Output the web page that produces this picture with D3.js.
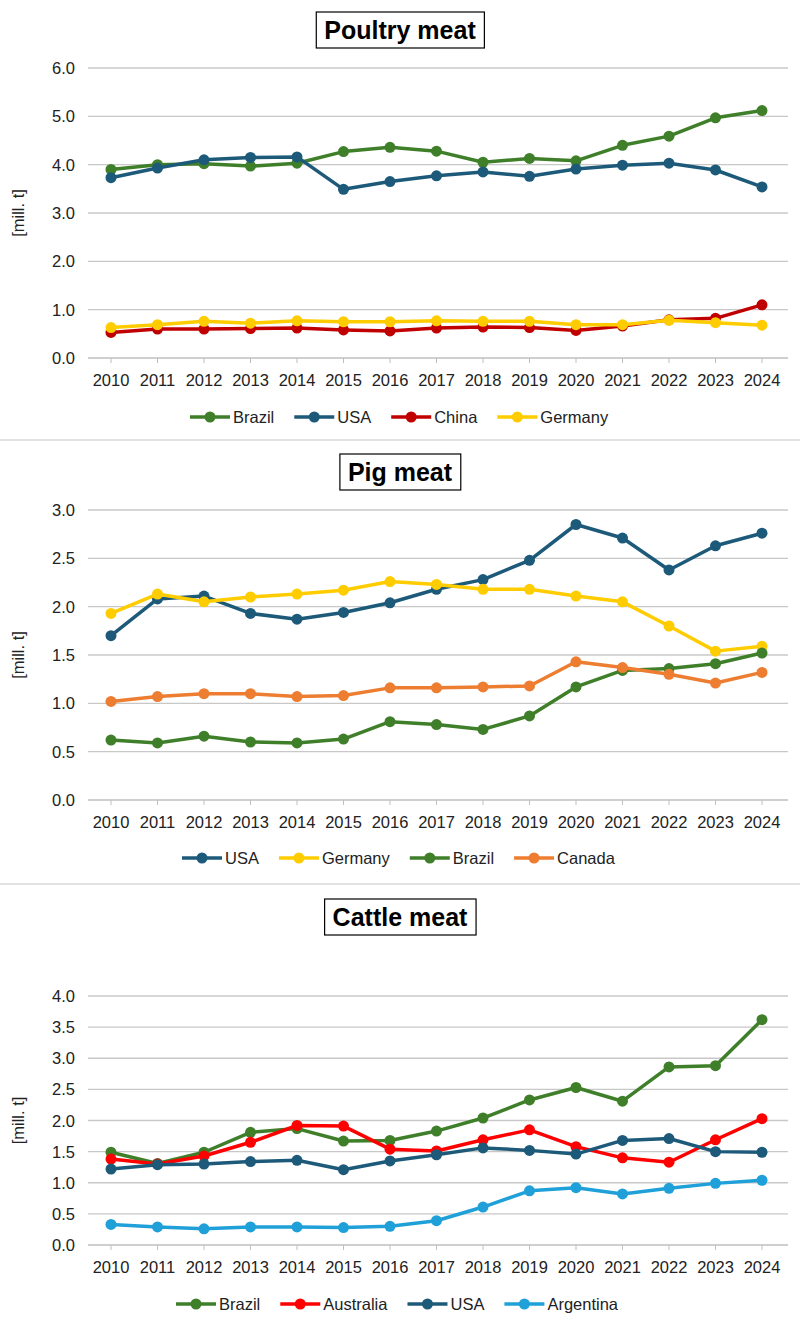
<!DOCTYPE html>
<html><head><meta charset="utf-8">
<script src="https://cdn.jsdelivr.net/npm/d3@7"></script>
<style>body{margin:0;background:#fff;font-family:"Liberation Sans",Arial,sans-serif}</style>
</head><body><div id="chart"></div>
<script>
var years = [2010,2011,2012,2013,2014,2015,2016,2017,2018,2019,2020,2021,2022,2023,2024];

var poultryNames = ["Brazil","USA","China","Germany"];
var poultryBrazil = [3.90,4.00,4.02,3.97,4.03,4.27,4.36,4.28,4.05,4.13,4.08,4.40,4.59,4.97,5.12];
var poultryUSA = [3.73,3.93,4.10,4.15,4.16,3.49,3.65,3.77,3.85,3.76,3.91,3.99,4.03,3.89,3.54];
var poultryChina = [0.53,0.60,0.60,0.61,0.62,0.58,0.56,0.62,0.64,0.63,0.57,0.66,0.79,0.82,1.10];
var poultryGermany = [0.63,0.69,0.76,0.72,0.77,0.75,0.75,0.77,0.76,0.76,0.69,0.69,0.78,0.73,0.68];

var pigNames = ["USA","Germany","Brazil","Canada"];
var pigUSA = [1.70,2.08,2.11,1.93,1.87,1.94,2.04,2.18,2.28,2.48,2.85,2.71,2.38,2.63,2.76];
var pigGermany = [1.93,2.13,2.05,2.10,2.13,2.17,2.26,2.23,2.18,2.18,2.11,2.05,1.80,1.54,1.59];
var pigBrazil = [0.62,0.59,0.66,0.60,0.59,0.63,0.81,0.78,0.73,0.87,1.17,1.34,1.36,1.41,1.52];
var pigCanada = [1.02,1.07,1.10,1.10,1.07,1.08,1.16,1.16,1.17,1.18,1.43,1.37,1.30,1.21,1.32];

var cattleNames = ["Brazil","Australia","USA","Argentina"];
var cattleBrazil = [1.49,1.31,1.49,1.81,1.87,1.67,1.68,1.83,2.04,2.33,2.53,2.31,2.86,2.88,3.62];
var cattleAustralia = [1.38,1.30,1.43,1.65,1.92,1.91,1.54,1.51,1.69,1.85,1.58,1.40,1.33,1.69,2.03];
var cattleUSA = [1.22,1.29,1.30,1.34,1.36,1.21,1.35,1.45,1.56,1.52,1.46,1.68,1.71,1.50,1.49];
var cattleArgentina = [0.33,0.29,0.26,0.29,0.29,0.28,0.30,0.39,0.61,0.87,0.92,0.82,0.91,0.99,1.04];

var colors = {Brazil:"#3f7f2a", USA:"#1d5a7a", China:"#c00000", Germany:"#ffcc00",
              Canada:"#ed7d31", Australia:"#ff0000", Argentina:"#1fa0d8"};

var W = 800, H = 1326;
var svg = d3.select("#chart").append("svg").attr("width", W).attr("height", H);

var panels = [
    {title:"Poultry meat", names:poultryNames, data:[poultryBrazil,poultryUSA,poultryChina,poultryGermany],
     max:6, step:1, top:68, bottom:358, titleY:30, legendY:417, legendX:190},
    {title:"Pig meat", names:pigNames, data:[pigUSA,pigGermany,pigBrazil,pigCanada],
     max:3, step:0.5, top:510, bottom:800, titleY:472, legendY:858, legendX:182},
    {title:"Cattle meat", names:cattleNames, data:[cattleBrazil,cattleAustralia,cattleUSA,cattleArgentina],
     max:4, step:0.5, top:996, bottom:1245, titleY:917, legendY:1304, legendX:176}
];

// separators between panels
[440, 884].forEach(function (y) {
    svg.append("line").attr("x1",0).attr("x2",W).attr("y1",y).attr("y2",y)
        .attr("stroke","#d9d9d9").attr("stroke-width",1.5);
});

var x = d3.scalePoint().domain(years).range([111, 762]);

panels.forEach(function (p) {
    var g = svg.append("g");
    var y = d3.scaleLinear().domain([0, p.max]).range([p.bottom, p.top]);
    var ticks = d3.range(0, p.max + p.step / 2, p.step);

    // title box
    var t = g.append("text").attr("x",400).attr("y",p.titleY + 9).attr("text-anchor","middle")
        .attr("font-size",25).attr("font-weight","bold").text(p.title);
    var bb = t.node().getBBox();
    g.insert("rect","text").attr("x",bb.x - 8).attr("y",p.titleY - 18).attr("width",bb.width + 16)
        .attr("height",36).attr("fill","#fff").attr("stroke","#000").attr("stroke-width",1.2);

    // grid
    g.selectAll(".grid").data(ticks.slice(1)).enter().append("line")
        .attr("x1",88).attr("x2",788).attr("y1",function (d) { return y(d); }).attr("y2",function (d) { return y(d); })
        .attr("stroke","#c8c8c8").attr("stroke-width",1.3);

    // y tick labels
    g.selectAll(".yl").data(ticks).enter().append("text")
        .attr("x",75).attr("y",function (d) { return y(d) + 6; }).attr("text-anchor","end")
        .attr("font-size",16.5).attr("fill","#222").text(function (d) { return d.toFixed(1); });

    // x axis
    g.append("line").attr("x1",88).attr("x2",788).attr("y1",p.bottom).attr("y2",p.bottom)
        .attr("stroke","#bfbfbf").attr("stroke-width",1.3);
    g.selectAll(".xt").data(years).enter().append("line")
        .attr("x1",function (d) { return x(d); }).attr("x2",function (d) { return x(d); })
        .attr("y1",p.bottom).attr("y2",p.bottom + 5).attr("stroke","#bfbfbf");
    g.selectAll(".xl").data(years).enter().append("text")
        .attr("x",function (d) { return x(d); }).attr("y",p.bottom + 28).attr("text-anchor","middle")
        .attr("font-size",16.5).attr("fill","#222").text(function (d) { return d; });

    // y label
    g.append("text").attr("transform","translate(24," + ((p.top + p.bottom) / 2) + ") rotate(-90)")
        .attr("text-anchor","middle").attr("font-size",16.5).attr("fill","#222").text("[mill. t]");

    var line = d3.line().x(function (d, i) { return x(years[i]); }).y(function (d) { return y(d); });

    p.data.forEach(function (vals, k) {
        var c = colors[p.names[k]];
        g.append("path").datum(vals).attr("d",line).attr("fill","none")
            .attr("stroke",c).attr("stroke-width",3.5).attr("stroke-linejoin","round");
        g.selectAll(".pt" + k).data(vals).enter().append("circle")
            .attr("cx",function (d, i) { return x(years[i]); }).attr("cy",function (d) { return y(d); })
            .attr("r",5.5).attr("fill",c);
    });

    // legend
    var lx = p.legendX;
    p.names.forEach(function (n) {
        var c = colors[n];
        g.append("line").attr("x1",lx).attr("x2",lx + 40).attr("y1",p.legendY).attr("y2",p.legendY)
            .attr("stroke",c).attr("stroke-width",3.5);
        g.append("circle").attr("cx",lx + 20).attr("cy",p.legendY).attr("r",5.5).attr("fill",c);
        var lt = g.append("text").attr("x",lx + 43).attr("y",p.legendY + 6).attr("font-size",16.5)
            .attr("fill","#222").text(n);
        lx += 43 + lt.node().getComputedTextLength() + 20;
    });
});
</script></body></html>
